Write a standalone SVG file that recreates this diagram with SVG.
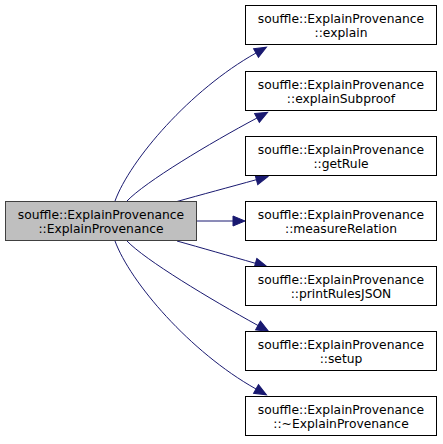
<svg xmlns="http://www.w3.org/2000/svg" width="443" height="444" viewBox="0 0 443 444">
<style>
.node rect{fill:#ffffff;stroke:#000000;stroke-width:1}
.node.main rect{fill:#bfbfbf;stroke:#404040}
.node text{font-family:"DejaVu Sans","Noto Sans",sans-serif;font-size:12.3px;fill:#000000;text-anchor:middle}
.edges path{fill:none;stroke:#191970;stroke-width:1;marker-end:url(#arrow)}
</style>
<defs>
<marker id="arrow" markerUnits="userSpaceOnUse" markerWidth="14" markerHeight="12" refX="0" refY="5" orient="auto" viewBox="0 -5 14 10" overflow="visible">
<path d="M0,0 L12,5 L0,10 z" fill="#191970" stroke="#191970" stroke-width="1"/>
</marker>
</defs>
<g class="edges" id="connectors">
<path d="M115,201 C130,160 190,90 256,53"/>
<path d="M127,201 C145,182 210,143 257,118"/>
<path d="M177,201.5 C200,195 230,187 256.4,179.7"/>
<path d="M197,221 L233,221"/>
<path d="M177,241 C200,247.5 230,256 255.4,263.3"/>
<path d="M127,241 C145,260 210,299 258,325.5"/>
<path d="M115,241 C130,282 190,352 256,389"/>
</g>
<g class="node main" id="node_main">
<rect x="5.5" y="201.5" width="191" height="39"/>
<text x="101" y="218.8">souffle::ExplainProvenance</text>
<text x="101" y="232.8">::ExplainProvenance</text>
</g>
<g class="node" id="node_explain">
<rect x="245.5" y="5.5" width="191" height="39"/>
<text x="341" y="22.8">souffle::ExplainProvenance</text>
<text x="341" y="36.8">::explain</text>
</g>
<g class="node" id="node_explainSubproof">
<rect x="245.5" y="71.5" width="191" height="39"/>
<text x="341" y="88.8">souffle::ExplainProvenance</text>
<text x="341" y="102.8">::explainSubproof</text>
</g>
<g class="node" id="node_getRule">
<rect x="245.5" y="136.5" width="191" height="39"/>
<text x="341" y="153.8">souffle::ExplainProvenance</text>
<text x="341" y="167.8">::getRule</text>
</g>
<g class="node" id="node_measureRelation">
<rect x="245.5" y="201.5" width="191" height="39"/>
<text x="341" y="218.8">souffle::ExplainProvenance</text>
<text x="341" y="232.8">::measureRelation</text>
</g>
<g class="node" id="node_printRulesJSON">
<rect x="245.5" y="266.5" width="191" height="39"/>
<text x="341" y="283.8">souffle::ExplainProvenance</text>
<text x="341" y="297.8">::printRulesJSON</text>
</g>
<g class="node" id="node_setup">
<rect x="245.5" y="331.5" width="191" height="39"/>
<text x="341" y="348.8">souffle::ExplainProvenance</text>
<text x="341" y="362.8">::setup</text>
</g>
<g class="node" id="node_destructor">
<rect x="245.5" y="396.5" width="191" height="39"/>
<text x="341" y="413.8">souffle::ExplainProvenance</text>
<text x="341" y="427.8">::~ExplainProvenance</text>
</g>
</svg>
